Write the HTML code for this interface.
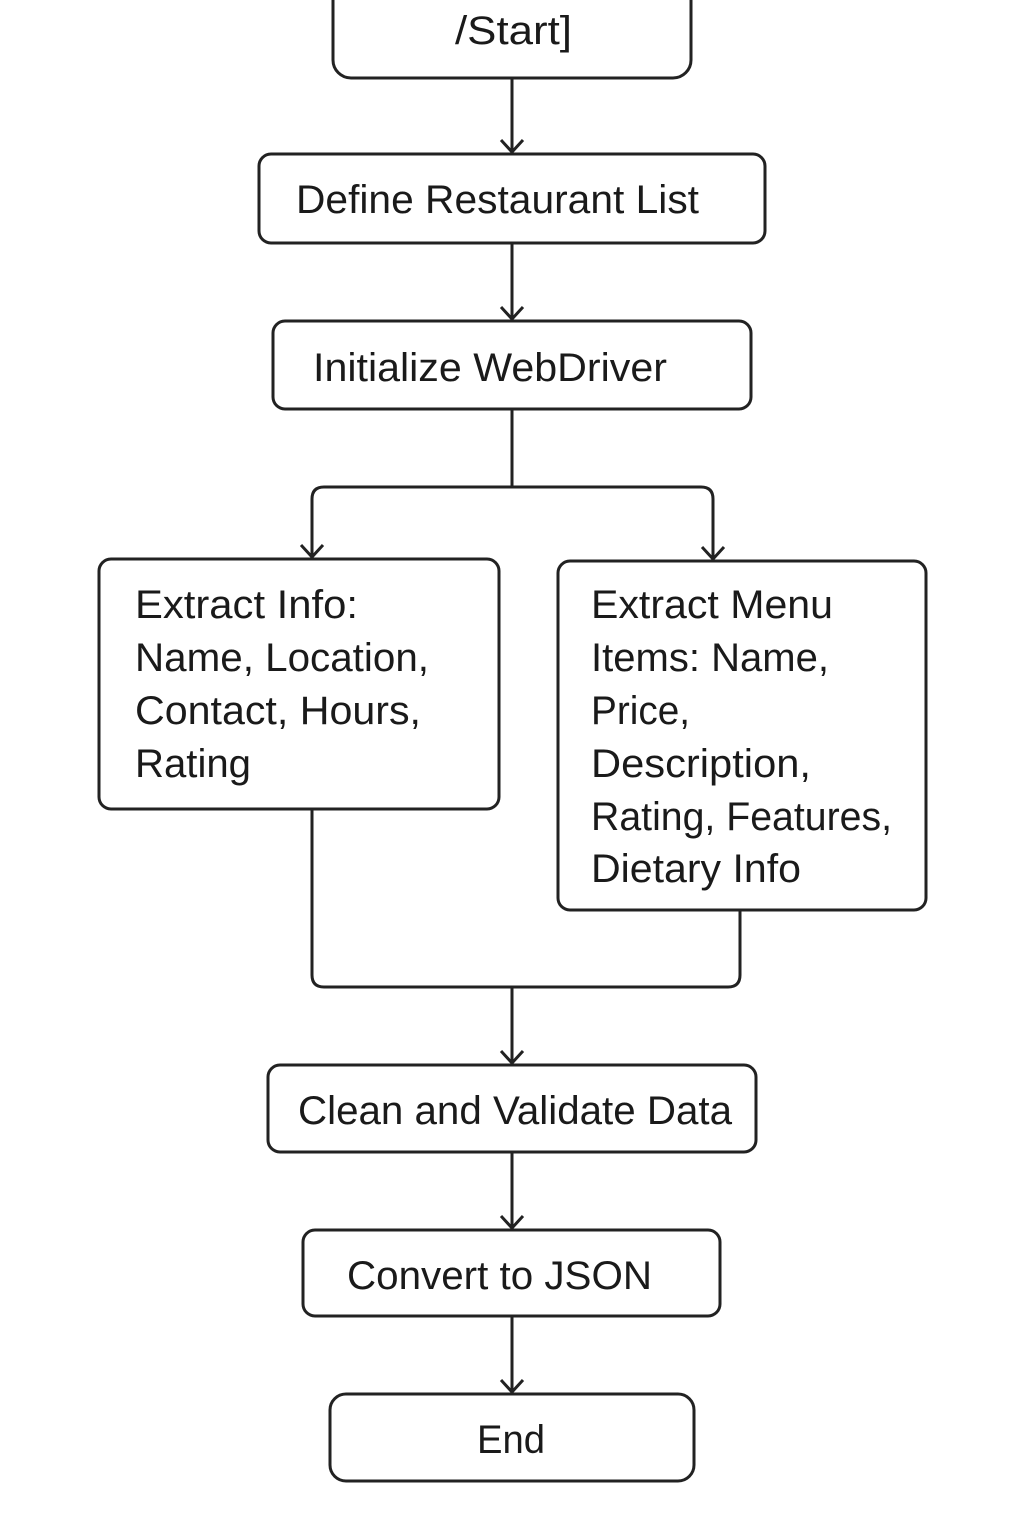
<!DOCTYPE html>
<html><head><meta charset="utf-8"><style>
html,body{margin:0;padding:0;background:#fff;}
svg{display:block}
text{font-family:"Liberation Sans",sans-serif;font-size:40px;fill:#1a1a1a;}
</style></head><body>
<svg width="1024" height="1536" viewBox="0 0 1024 1536" xmlns="http://www.w3.org/2000/svg">
<defs>
<marker id="a" markerWidth="26" markerHeight="16" refX="13" refY="14" orient="0" markerUnits="userSpaceOnUse">
<path d="M2,2 L13,14 L24,2" fill="none" stroke="#222" stroke-width="3"/>
</marker>
</defs>
<g fill="none" stroke="#222" stroke-width="3">
<rect x="333" y="-20" width="358" height="98" rx="18"/>
<rect x="259" y="154" width="506" height="89" rx="12"/>
<rect x="273" y="321" width="478" height="88" rx="12"/>
<rect x="99" y="559" width="400" height="250" rx="12"/>
<rect x="558" y="561" width="368" height="349" rx="12"/>
<rect x="268" y="1065" width="488" height="87" rx="12"/>
<rect x="303" y="1230" width="417" height="86" rx="12"/>
<rect x="330" y="1394" width="364" height="87" rx="16"/>
<line x1="512" y1="78" x2="512" y2="152" marker-end="url(#a)"/>
<line x1="512" y1="243" x2="512" y2="319" marker-end="url(#a)"/>
<line x1="512" y1="409" x2="512" y2="487"/>
<path d="M312,557 V499 Q312,487 324,487 H701 Q713,487 713,499 V559" marker-end="url(#a)"/>
<line x1="312" y1="540" x2="312" y2="557" marker-end="url(#a)"/>
<path d="M312,809 V975 Q312,987 324,987 H728 Q740,987 740,975 V910"/>
<line x1="512" y1="987" x2="512" y2="1063" marker-end="url(#a)"/>
<line x1="512" y1="1152" x2="512" y2="1228" marker-end="url(#a)"/>
<line x1="512" y1="1316" x2="512" y2="1392" marker-end="url(#a)"/>
</g>
<text x="455" y="44" textLength="117" lengthAdjust="spacingAndGlyphs">/Start]</text>
<text x="296" y="213" textLength="403" lengthAdjust="spacingAndGlyphs">Define Restaurant List</text>
<text x="313" y="381" textLength="354" lengthAdjust="spacingAndGlyphs">Initialize WebDriver</text>
<text x="135" y="618" textLength="223" lengthAdjust="spacingAndGlyphs">Extract Info:</text>
<text x="135" y="671" textLength="294" lengthAdjust="spacingAndGlyphs">Name, Location,</text>
<text x="135" y="724" textLength="286" lengthAdjust="spacingAndGlyphs">Contact, Hours,</text>
<text x="135" y="777" textLength="116" lengthAdjust="spacingAndGlyphs">Rating</text>
<text x="591" y="618" textLength="242" lengthAdjust="spacingAndGlyphs">Extract Menu</text>
<text x="591" y="671" textLength="238" lengthAdjust="spacingAndGlyphs">Items: Name,</text>
<text x="591" y="724" textLength="99" lengthAdjust="spacingAndGlyphs">Price,</text>
<text x="591" y="777" textLength="220" lengthAdjust="spacingAndGlyphs">Description,</text>
<text x="591" y="830" textLength="301" lengthAdjust="spacingAndGlyphs">Rating, Features,</text>
<text x="591" y="882" textLength="210" lengthAdjust="spacingAndGlyphs">Dietary Info</text>
<text x="298" y="1124" textLength="434" lengthAdjust="spacingAndGlyphs">Clean and Validate Data</text>
<text x="347" y="1289" textLength="305" lengthAdjust="spacingAndGlyphs">Convert to JSON</text>
<text x="477" y="1453" textLength="68" lengthAdjust="spacingAndGlyphs">End</text>
</svg>
</body></html>
